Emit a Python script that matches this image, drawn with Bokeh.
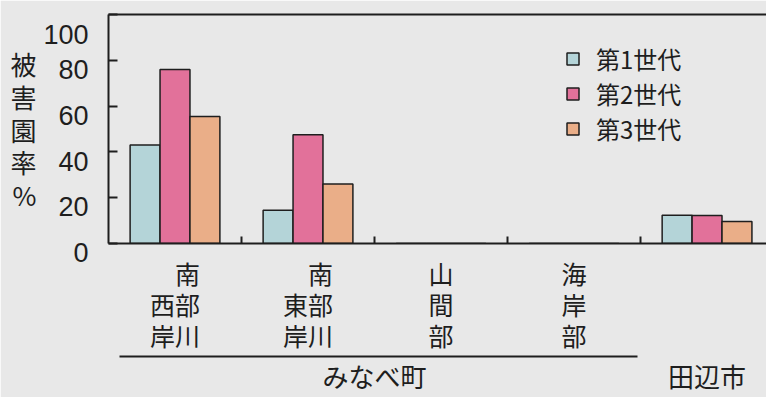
from bokeh.plotting import figure
from bokeh.models import FixedTicker, Range1d, LinearAxis, Legend, LegendItem
from bokeh.embed import file_html
from bokeh.resources import INLINE

# ---- data ----
categories = ["\u3000南\n西部\n岸川", "\u3000南\n東部\n岸川", "山\n間\n部", "海\n岸\n部", ""]
gen1 = [43, 14.5, 0, 0, 12.3]
gen2 = [76, 47.5, 0, 0, 12.2]
gen3 = [55.5, 26, 0, 0, 9.6]
series_names = ["第1世代", "第2世代", "第3世代"]
group_labels = ["みなべ町", "田辺市"]
group_members = [[0, 1, 2, 3], [4]]
y_ticks = [0, 20, 40, 60, 80, 100]
y_label = "被\n害\n園\n率\n%"

BG = "#e8e8e8"
INK = "#1e1e1e"
colors = ["#b4d4d8", "#e2719a", "#eaae88"]
CJK = "Noto Sans CJK JP"

n = len(categories)
p = figure(width=766, height=397, x_range=Range1d(-0.5, 4.447), y_range=Range1d(0, 100),
           output_backend="svg", toolbar_location=None,
           min_border_left=108, min_border_top=14, min_border_right=0, min_border_bottom=154)
p.background_fill_color = BG
p.border_fill_color = BG
p.outline_line_color = None
p.grid.visible = False

offsets = [-0.225, 0.0, 0.225]
renderers = []
for vals, off, col in zip([gen1, gen2, gen3], offsets, colors):
    r = p.vbar(x=[i + off for i in range(n)], top=vals, width=0.225, bottom=0,
               fill_color=col, line_color=INK, line_width=1.5)
    renderers.append(r)

# y axis
ya = p.yaxis[0]
ya.ticker = FixedTicker(ticks=y_ticks, minor_ticks=[])
ya.major_label_overrides = {v: "\n" + str(v) for v in y_ticks}
ya.major_tick_in = 9
ya.major_tick_out = 0
ya.major_tick_line_width = 2
ya.major_tick_line_color = INK
ya.axis_line_width = 2
ya.axis_line_color = INK
ya.major_label_standoff = 20
ya.major_label_text_font = "Liberation Sans"
ya.major_label_text_font_size = "27px"
ya.major_label_text_line_height = 0.65
ya.major_label_text_color = INK
ya.axis_label = y_label
ya.axis_label_orientation = "horizontal"
ya.axis_label_text_font = CJK
ya.axis_label_text_font_size = "26px"
ya.axis_label_text_font_style = "normal"
ya.axis_label_text_line_height = 0.88
ya.axis_label_text_color = INK
ya.axis_label_standoff = 4

# x axis (categories)
xa = p.xaxis[0]
xa.ticker = FixedTicker(ticks=list(range(n)), minor_ticks=[i + 0.5 for i in range(n - 1)])
xa.major_label_overrides = {i: c for i, c in enumerate(categories)}
xa.major_tick_in = 0
xa.major_tick_out = 0
xa.minor_tick_in = 7
xa.minor_tick_out = 0
xa.minor_tick_line_width = 2
xa.minor_tick_line_color = INK
xa.axis_line_width = 2
xa.axis_line_color = INK
xa.major_label_standoff = 11
xa.major_label_text_font = CJK
xa.major_label_text_font_size = "25px"
xa.major_label_text_line_height = 0.87
xa.major_label_text_color = INK

# group axis
g_pos = [sum(m) / len(m) for m in group_members]
ga = LinearAxis(ticker=FixedTicker(ticks=g_pos, minor_ticks=[]),
                bounds=(-0.42, 3.48))
ga.major_label_overrides = {gp: gl for gp, gl in zip(g_pos, group_labels)}
ga.major_tick_in = 0
ga.major_tick_out = 0
ga.minor_tick_in = 0
ga.minor_tick_out = 0
ga.axis_line_width = 2
ga.axis_line_color = INK
ga.major_label_standoff = 0
ga.major_label_text_font = CJK
ga.major_label_text_font_size = "26px"
ga.major_label_text_color = INK
p.add_layout(ga, "below")

# top border
ta = LinearAxis(ticker=FixedTicker(ticks=[], minor_ticks=[]))
ta.axis_line_width = 2
ta.axis_line_color = INK
ta.major_tick_in = 0
ta.major_tick_out = 0
ta.minor_tick_in = 0
ta.minor_tick_out = 0
ta.major_label_standoff = 0
ta.major_label_text_font_size = "0px"
p.add_layout(ta, "above")

legend = Legend(items=[LegendItem(label=s, renderers=[r]) for s, r in zip(series_names, renderers)],
                location=(457, 97), padding=0, margin=0, spacing=0,
                glyph_width=15, glyph_height=15, label_height=22, label_standoff=16,
                background_fill_alpha=0, border_line_color=None,
                label_text_font=CJK, label_text_font_size="24px", label_text_line_height=0.85,
                label_text_color=INK)
p.add_layout(legend)

open("out.html", "w").write(file_html(p, INLINE))
